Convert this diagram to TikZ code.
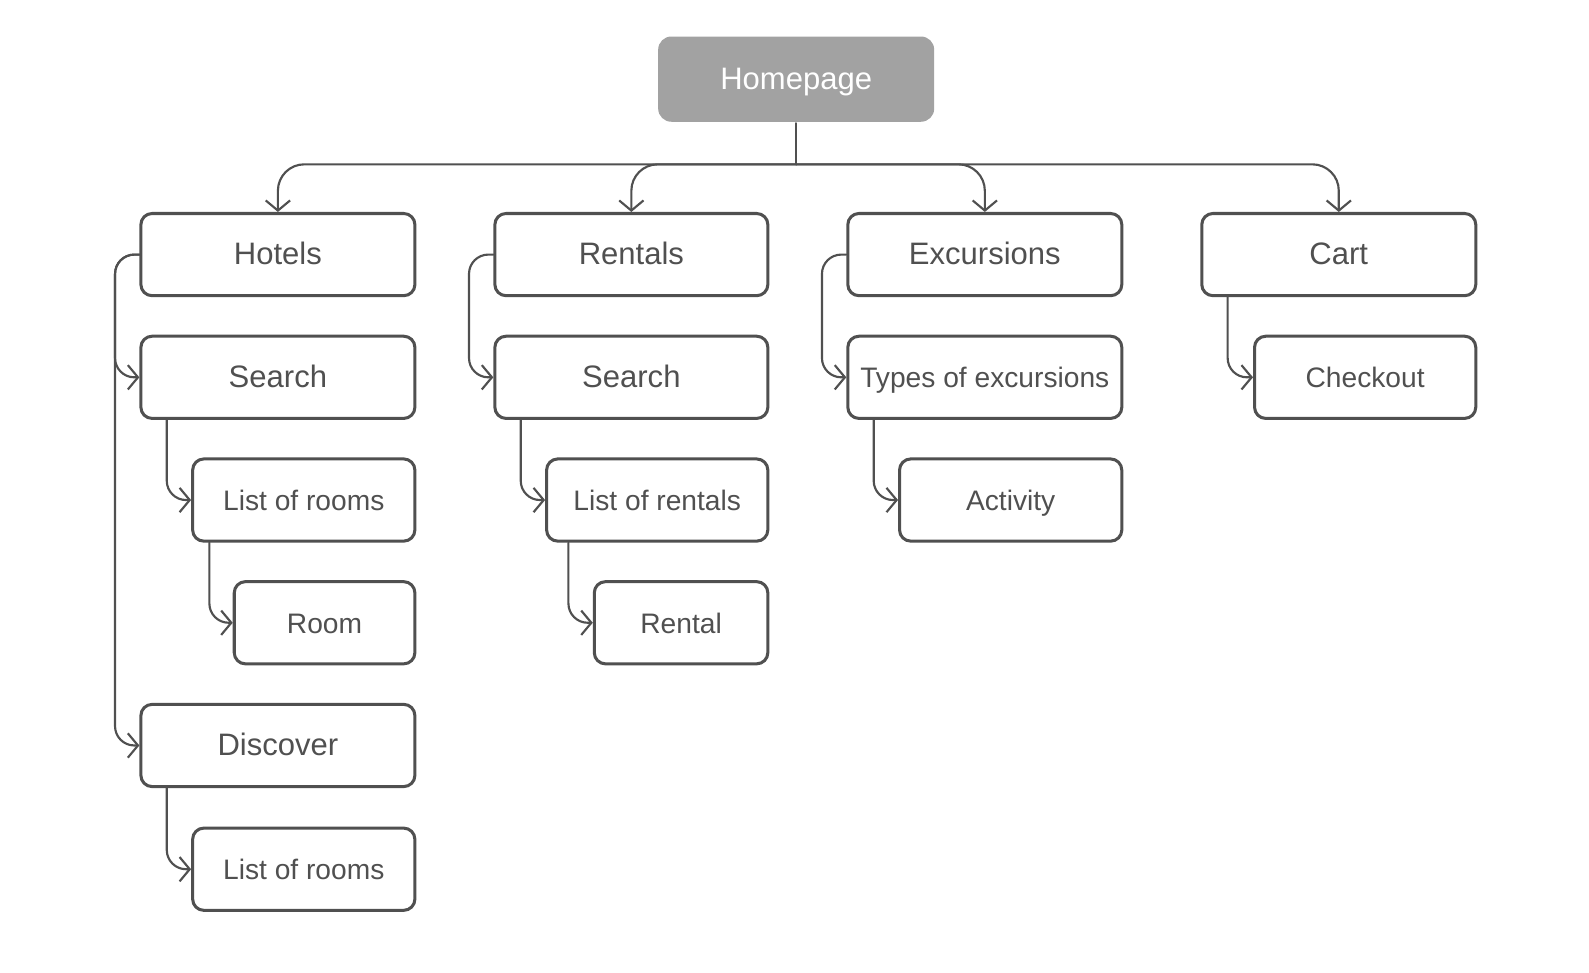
\documentclass[tikz,border=0pt]{standalone}
\usepackage{fontspec}
\setmainfont{Liberation Sans}
\usetikzlibrary{arrows.meta,calc}
\definecolor{linegray}{RGB}{80,80,80}
\definecolor{homegray}{RGB}{162,162,162}
\begin{document}
\begin{tikzpicture}[x=0.01cm, y=-0.01cm, >={Straight Barb[length=1mm,width=2.4mm]}, line join=round, line cap=round,
	page/.style={draw=linegray, line width=0.85pt, rounded corners=1.1mm, minimum height=0.81cm, text=linegray, text height=1.1ex, text depth=0pt, font=\fontsize{8.7}{10}\selectfont},
	subpage/.style={page, font=\fontsize{7.9}{9}\selectfont},
	link/.style={->, draw=linegray, line width=0.6pt, rounded corners=1.9mm}]
	\useasboundingbox (0,0) rectangle (1566.7,958.4);
	% top
	\node[page, fill=homegray, draw=none, text=white, minimum width=2.72cm, minimum height=0.84cm, rounded corners=1.3mm] (home) at (785,78) {Homepage};
	\node[page, minimum width=2.7cm] (hotels) at (274,251) {Hotels};
	\node[page, minimum width=2.69cm] (rentals) at (622.5,251) {Rentals};
	\node[page, minimum width=2.7cm] (excursions) at (971,251) {Excursions};
	\node[page, minimum width=2.7cm] (cart) at (1320,251) {Cart};
	% hotels
	\node[page, minimum width=2.7cm] (hsearch) at (274,372) {Search};
	\node[subpage, minimum width=2.19cm] (hrooms) at (299.5,493) {List of rooms};
	\node[subpage, minimum width=1.78cm] (room) at (320,614) {Room};
	\node[page, minimum width=2.7cm] (discover) at (274,735) {Discover};
	\node[subpage, minimum width=2.19cm] (drooms) at (299.5,857) {List of rooms};
	% rentals
	\node[page, minimum width=2.69cm] (rsearch) at (622.5,372) {Search};
	\node[subpage, minimum width=2.18cm] (rlist) at (648,493) {List of rentals};
	\node[subpage, minimum width=1.71cm] (rental) at (671.5,614) {Rental};
	% excursions and cart
	\node[subpage, minimum width=2.7cm] (types) at (971,372) {Types of excursions};
	\node[subpage, minimum width=2.19cm] (activity) at (996.5,493) {Activity};
	\node[subpage, minimum width=2.18cm] (checkout) at (1346,372) {Checkout};

	\coordinate (bus) at (785,162);
	\draw[draw=linegray, line width=0.6pt] (home.south) -- (bus);
	\foreach \n in {hotels,rentals,excursions,cart}
		\draw[link, rounded corners=2.6mm] (bus) -| (\n.north);
	% side links
	\draw[link] (hotels.west) -- ++(-24,0) |- (hsearch.west);
	\draw[link] (hotels.west) -- ++(-24,0) |- (discover.west);
	\draw[link] (rentals.west) -- ++(-24,0) |- (rsearch.west);
	\draw[link] (excursions.west) -- ++(-24,0) |- (types.west);
	\draw[link] ($(hsearch.south west)+(27,0)$) |- (hrooms.west);
	\draw[link] ($(hrooms.south west)+(18,0)$) |- (room.west);
	\draw[link] ($(discover.south west)+(27,0)$) |- (drooms.west);
	\draw[link] ($(rsearch.south west)+(27,0)$) |- (rlist.west);
	\draw[link] ($(rlist.south west)+(23,0)$) |- (rental.west);
	\draw[link] ($(types.south west)+(27,0)$) |- (activity.west);
	\draw[link] ($(cart.south west)+(27,0)$) |- (checkout.west);
\end{tikzpicture}
\end{document}
